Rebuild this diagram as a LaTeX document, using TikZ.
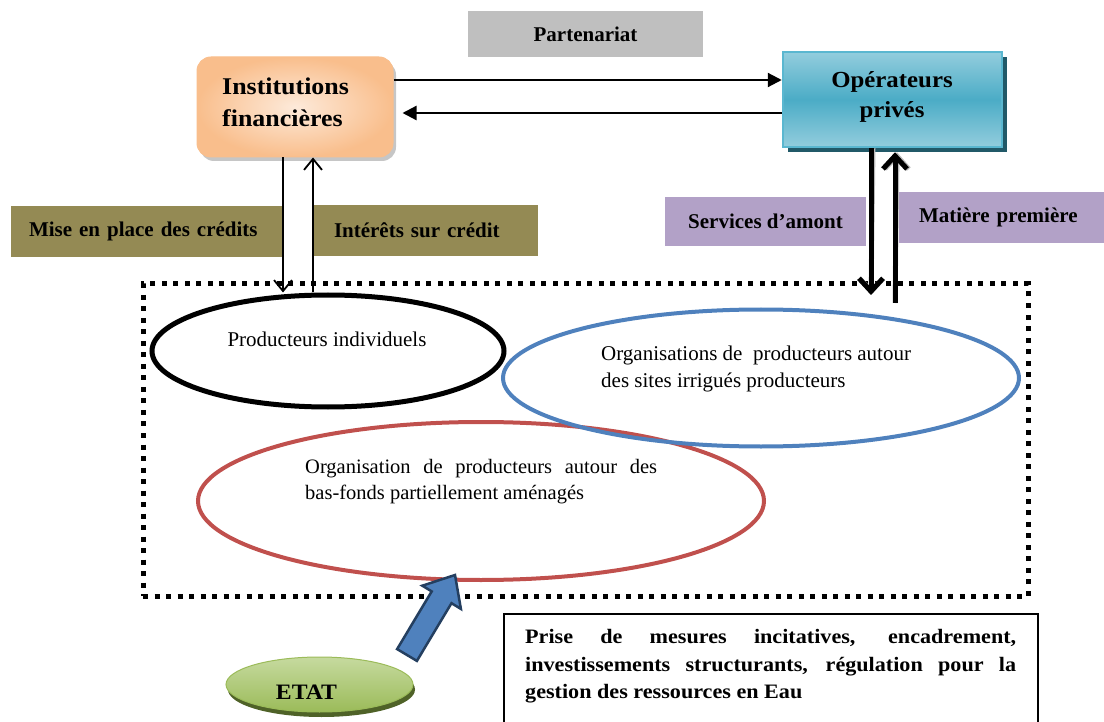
\documentclass[tikz,border=0pt]{standalone}
\usepackage{fontspec}
\setmainfont{Liberation Serif}
\newfontfamily\palfont[FakeStretch=1.08]{Liberation Serif}
\usetikzlibrary{arrows.meta,shapes.geometric,calc,shadows}
\newcommand\fsz[2]{\fontsize{#1pt}{#2pt}\selectfont}
\definecolor{cOlive}{HTML}{948A54}
\definecolor{cPurple}{HTML}{B2A1C7}
\definecolor{cGray}{HTML}{BFBFBF}
\definecolor{cBlue}{HTML}{4F81BD}
\definecolor{cRed}{HTML}{C0504D}
\definecolor{cNavy}{HTML}{243F60}
\definecolor{cTeal}{HTML}{4BACC6}
\definecolor{cTealL}{HTML}{93CDDD}
\definecolor{cTealB}{HTML}{5AB7D0}
\definecolor{cTealD}{HTML}{215968}
\definecolor{cPeachIn}{HTML}{FDEADA}
\definecolor{cPeachOut}{HTML}{F9BE8C}
\definecolor{cGreen}{HTML}{9BBB59}
\definecolor{cGreenL}{HTML}{C6DA9F}
\definecolor{cGreenD}{HTML}{4F6228}
\begin{document}
\begin{tikzpicture}[x=1pt,y=-1pt,
  lblfont/.style={font=\bfseries\fsz{21}{25}},
  tagbox/.style={lblfont,inner ysep=0pt,minimum height=#1},
  harr/.style={line width=2.2pt,-{Triangle[length=14pt,width=14pt]}},
  thinarr/.style={line width=1.8pt,-{Straight Barb[length=11pt,width=18pt]}},
  thickarr/.style={line width=5pt,-{Straight Barb[length=13pt,width=24pt]}},
  ell/.style={ellipse,inner sep=0pt},
  dotbox/.style={draw,line width=5pt,dash pattern=on 5pt off 6.5pt}]
\useasboundingbox (0,0) rectangle (1104,722);

% Partenariat
\node[fill=cGray,minimum width=235pt,minimum height=46pt,inner sep=0pt,lblfont] (part) at (585.5,34) {Partenariat};

% Institutions financieres
\node[rounded corners=14pt,inner color=cPeachIn,outer color=cPeachOut,draw=cPeachOut,line width=1pt,
      minimum width=196pt,minimum height=100pt,
      drop shadow={shadow xshift=3pt,shadow yshift=-4pt,fill=gray!45,opacity=1}] (inst) at (295,107) {};
\node[anchor=north west,align=left,inner sep=0pt,font=\palfont\bfseries\fsz{24}{32}] (instt) at (222,78) {Institutions\\financières};

% Operateurs prives
\node[draw=cTealB,line width=2.5pt,top color=cTealL,bottom color=cTealL,middle color=cTeal,
      minimum width=219pt,minimum height=95pt,
      drop shadow={shadow xshift=5pt,shadow yshift=-5pt,fill=cTealD,opacity=1}] (op) at (892.5,99.5) {};
\node[anchor=north,align=center,inner sep=0pt,font=\palfont\bfseries\fsz{23}{30}] (opt) at (892,71) {Opérateurs\\privés};

% horizontal arrows
\draw[harr] (inst.east |- 0,80) -- (op.west |- 0,80);
\draw[harr] (op.west |- 0,113) -- ($(inst.east |- 0,113)+(9,0)$);

% labels
\node[fill=cOlive,tagbox=51pt,text width=236pt,align=left,inner xsep=18pt] (mise) at (147,231.5) {Mise en place des crédits};
\node[fill=cOlive,tagbox=51pt,text width=183pt,align=left,inner xsep=21pt] (inter) at (425.5,230.5) {Intérêts sur crédit};
\node[fill=cPurple,tagbox=49pt,minimum width=201pt,inner xsep=0pt] (serv) at (765.5,221.5) {Services d’amont};
\node[fill=cPurple,tagbox=51pt,text width=165pt,align=left,inner xsep=20pt] (mat) at (1001.5,217.5) {Matière première};

% dotted zone
\node[dotbox,minimum width=885pt,minimum height=312pt,inner sep=0pt] (zone) at (585.5,440) {};

% ellipses
\node[ell,draw=black,line width=5pt,minimum width=352pt,minimum height=112pt] (prod) at (328,351) {};
\node[ell,draw=cRed,line width=4pt,minimum width=566pt,minimum height=158pt] (rd) at (481,501) {};
\node[ell,draw=cBlue,line width=4pt,minimum width=516pt,minimum height=137pt] (bl) at (761,378) {};

\node[anchor=base,inner sep=0pt,font=\fsz{21}{26}] (prodt) at (327,347) {Producteurs individuels};
\node[anchor=north west,align=left,inner sep=0pt,font=\fsz{21}{27}] (blt) at (601,346) {Organisations de~ producteurs autour\\des sites irrigués producteurs};
\node[anchor=north west,align=left,inner sep=0pt,font=\fsz{20.5}{26}] (rdt) at (305,459.5) {\makebox[352pt][s]{Organisation de producteurs autour des}\\bas-fonds partiellement aménagés};

% vertical arrows institutions
\draw[thinarr] (inst.south -| 283,0) -- (prod.north -| 283,0);
\draw[thinarr] (prod.north -| 313,0) -- (inst.south -| 313,0);

% thick arrows operateurs
\coordinate (dn) at (871,295);
\coordinate (upb) at (895,303);
\draw[thickarr,gray!55,xshift=2pt,yshift=-2pt] (op.south -| 871,0) -- (dn);
\draw[thickarr,gray!55,xshift=2pt,yshift=-2pt] (upb) -- ($(op.south -| 895,0)+(0,4)$);
\draw[thickarr] (op.south -| 871,0) -- (dn);
\draw[thickarr] (upb) -- ($(op.south -| 895,0)+(0,4)$);

% ETAT
\node[ell,top color=cGreenL,bottom color=cGreen,draw=cGreen,line width=1pt,
      minimum width=187pt,minimum height=55pt,
      drop shadow={shadow xshift=2pt,shadow yshift=-5pt,fill=cGreenD,opacity=1}] (etat) at (319.5,684.5) {};
\node[anchor=base,inner sep=0pt,font=\palfont\bfseries\fsz{22}{26}] (etatt) at (306.5,699) {ETAT};

% block arrow
\coordinate (ba1) at (397.1,649.1);
\coordinate (ba2) at (431.7,591.4);
\coordinate (ba3) at (422.3,585.7);
\coordinate (ba4) at (455,575);
\coordinate (ba5) at (460.9,608.9);
\coordinate (ba6) at (451.5,603.2);
\coordinate (ba7) at (416.9,660.9);
\filldraw[draw=cNavy,fill=cBlue,line width=2.5pt,line join=miter] (ba1) -- (ba2) -- (ba3) -- (ba4) -- (ba5) -- (ba6) -- (ba7) -- cycle;

% bottom text box
\draw[line width=1.5pt] (504,722) -- (504,614) -- (1038,614) -- (1038,722);
\node[anchor=north west,align=left,inner sep=0pt,font=\palfont\bfseries\fsz{20.5}{27.5}] (govt) at (525,629.5)
 {\makebox[491pt][s]{Prise de mesures incitatives, encadrement,}\\
  \makebox[491pt][s]{investissements structurants, régulation pour la}\\
  gestion des ressources en Eau};
\end{tikzpicture}
\end{document}
